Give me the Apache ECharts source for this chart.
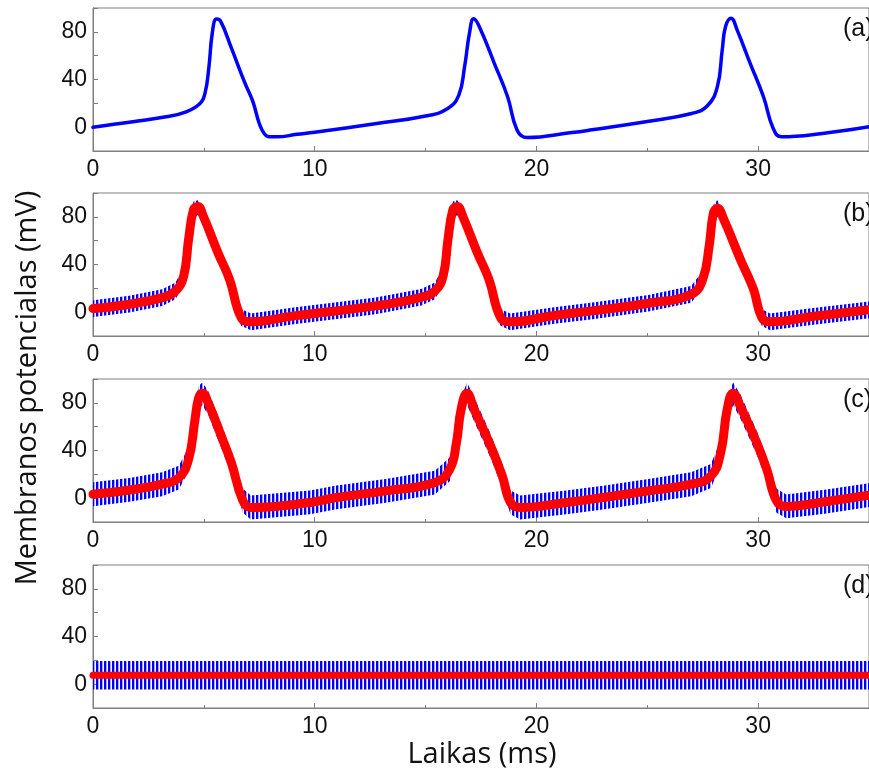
<!DOCTYPE html>
<html>
<head>
<meta charset="utf-8">
<script src="https://cdn.jsdelivr.net/npm/echarts@6/dist/echarts.min.js"></script>
<style>
  html, body { margin: 0; padding: 0; background: #fff; }
  #chart { width: 869px; height: 774px; }
</style>
</head>
<body>
<div id="chart"></div>
<script>
// (a) membrane potential, no stimulation
const aT = [0, 1.8, 3.3, 4.2, 4.8, 5.05, 5.23, 5.38, 5.57, 5.76, 6.24, 6.83, 7.2, 7.5, 7.72, 7.95, 8.3, 9.2, 10.0, 12.8, 15.0, 16.0, 16.5, 16.76, 16.98, 17.17, 17.42, 18.1, 18.7, 19.13, 19.57, 21.6, 22.5, 25.0, 27.0, 27.7, 28.16, 28.38, 28.53, 28.78, 29.05, 29.64, 30.24, 30.68, 31.05, 32.9, 35]
const aV = [0, 4.5, 8.7, 12.9, 19.4, 28.4, 50.8, 78.9, 90.7, 88.8, 66.5, 38, 22, 3.1, -5.3, -8.1, -8.1, -6.0, -4.3, 3.1, 9.3, 15.7, 26.9, 50.8, 78.9, 90.9, 84.5, 53.6, 25.5, -2.5, -8.7, -4.5, -2.2, 4.8, 11.5, 17.7, 33.9, 64.8, 84.5, 91.5, 81.7, 53.6, 25.5, -1.1, -8.1, -5.3, 0.3]

// (b) red = averaged trace, blue = raw trace (read as upper / lower envelope)
const bT = [0, 1.64, 3.12, 3.72, 4.09, 4.31, 4.53, 4.73, 4.98, 5.64, 6.16, 6.68, 7.12, 9.05, 12.75, 14.8, 15.42, 15.79, 16.01, 16.23, 16.43, 16.68, 17.34, 17.86, 18.38, 18.82, 20.8, 22.53, 25.05, 26.98, 27.5, 27.79, 27.98, 28.16, 28.46, 29.2, 29.79, 30.16, 30.53, 32.5, 35]
const bV = [3, 6.7, 12.2, 17.8, 30.3, 60.8, 85.8, 88.6, 80.3, 49.7, 27.5, -4.4, -8.1, -3.1, 5.3, 12.5, 17.8, 30.3, 60.8, 85.8, 88.6, 80.3, 49.7, 27.5, -4.4, -8.1, -2.8, 1.1, 7.5, 15, 27.5, 55.3, 83, 87.2, 77.5, 44.2, 19.2, -4.4, -8.1, -3.5, 2]
const bHi = [10, 13.7, 19.2, 24.8, 37.3, 67.8, 92.8, 94, 87.3, 56.7, 34.5, 2.6, -1.1, 3.9, 12.3, 19.5, 24.8, 37.3, 67.8, 92.8, 94, 87.3, 56.7, 34.5, 2.6, -1.1, 4.2, 8.1, 14.5, 22, 34.5, 62.3, 90, 94, 84.5, 51.2, 26.2, 2.6, -1.1, 3.5, 9]
const bLo = [-4, -0.3, 5.2, 10.8, 23.3, 53.8, 78.8, 81.6, 73.3, 42.7, 20.5, -11.4, -15.1, -10.1, -1.7, 5.5, 10.8, 23.3, 53.8, 78.8, 81.6, 73.3, 42.7, 20.5, -11.4, -15.1, -9.8, -5.9, 0.5, 8, 20.5, 48.3, 76, 80.2, 70.5, 37.2, 12.2, -11.4, -15.1, -10.5, -5]

// (c)
const cT = [0, 1.64, 3.12, 3.87, 4.31, 4.6, 4.76, 4.93, 5.2, 5.79, 6.24, 6.76, 7.12, 9.79, 10.98, 13.2, 15.42, 16.09, 16.39, 16.6, 16.87, 17.2, 17.94, 18.46, 18.83, 19.27, 21.35, 23.0, 25.05, 26.98, 27.87, 28.31, 28.6, 28.87, 29.2, 29.94, 30.39, 30.83, 31.27, 33.0, 35]
const cV = [3.3, 6.9, 11.7, 17.2, 32.5, 65.8, 83.9, 88.1, 79.7, 51.9, 29.7, -2.2, -7.8, -3.6, 0.6, 6.1, 13.1, 24.2, 46.4, 74.2, 88.1, 74.2, 43.6, 18.6, -3.6, -7.8, -3.6, 0.5, 6.1, 11.7, 18.6, 38.1, 74.2, 88.1, 76.9, 46.4, 24.2, -2.2, -6.9, -3.0, 2.5]
const cHi = [13.3, 16.9, 21.7, 27.2, 42.5, 75.8, 93.9, 97, 89.7, 61.9, 39.7, 7.8, 2.2, 6.4, 10.6, 16.1, 23.1, 34.2, 56.4, 84.2, 97, 84.2, 53.6, 28.6, 6.4, 2.2, 6.4, 10.5, 16.1, 21.7, 28.6, 48.1, 84.2, 97, 86.9, 56.4, 34.2, 7.8, 3.1, 7, 12.5]
const cLo = [-6.7, -3.1, 1.7, 7.2, 22.5, 55.8, 73.9, 78.1, 69.7, 41.9, 19.7, -12.2, -17.8, -13.6, -9.4, -3.9, 3.1, 14.2, 36.4, 64.2, 78.1, 64.2, 33.6, 8.6, -13.6, -17.8, -13.6, -9.5, -3.9, 1.7, 8.6, 28.1, 64.2, 78.1, 66.9, 36.4, 14.2, -12.2, -16.9, -13, -7.5]

// (d)
const dT = [0, 10, 20, 30, 35]
const dV = [7.5, 7.5, 7.5, 7.5, 7.5]
const dHi = [19.5, 19.5, 19.5, 19.5, 19.5]
const dLo = [-4.5, -4.5, -4.5, -4.5, -4.5]

const panelLabels = ['(a)', '(b)', '(c)', '(d)']
const xTicks = [0, 10, 20, 30]
const yTicks = [0, 40, 80]

const tops = [8, 193, 379, 565]
const gray = '#7f7f7f'
const font = '"Liberation Sans", Arial, sans-serif'

const zip = (t, v) => t.map((x, i) => [x, v[i]])

// fine stripes that stand in for the fast oscillation of the raw trace
const stripe = document.createElement('canvas')
stripe.width = 4; stripe.height = 4
{
  const g = stripe.getContext('2d')
  g.fillStyle = '#0000ff'
  g.fillRect(0, 0, 2, 4)
  g.fillStyle = 'rgba(0,0,255,0.35)'
  g.fillRect(2, 0, 1, 4)
}

function band(idx, t, hi, lo) {
  return {
    type: 'custom', xAxisIndex: idx, yAxisIndex: idx, clip: true, z: 2,
    data: [[0, 0]],
    renderItem: function (params, api) {
      const pts = []
      t.forEach((x, i) => pts.push(api.coord([x, hi[i]])))
      for (let i = t.length - 1; i >= 0; i--) pts.push(api.coord([t[i], lo[i]]))
      return { type: 'polygon', shape: { points: pts }, style: { fill: { image: stripe, repeat: 'repeat' } } }
    }
  }
}

function line(idx, t, v, color, width) {
  return {
    type: 'line', xAxisIndex: idx, yAxisIndex: idx, data: zip(t, v),
    showSymbol: false, smooth: 0.45, z: 3,
    lineStyle: { color: color, width: width, cap: 'round', join: 'round' }
  }
}

const chart = echarts.init(document.getElementById('chart'))
const option = {
  backgroundColor: '#fff',
  animation: false,
  grid: tops.map(tp => ({ left: 93, right: -12, top: tp, height: 143, show: true, borderColor: gray, borderWidth: 1, backgroundColor: 'transparent' })),
  xAxis: tops.map((tp, i) => ({
    type: 'value', gridIndex: i, min: 0, max: 35, interval: 10,
    axisLine: { show: true, onZero: false, lineStyle: { color: gray } },
    axisTick: { inside: true, length: 5, lineStyle: { color: gray } },
    minorTick: { show: true, splitNumber: 2, length: 3, lineStyle: { color: gray } },
    splitLine: { show: false },
    axisLabel: { margin: 7, fontSize: 23, color: '#111', fontFamily: font, showMaxLabel: false,
      formatter: v => xTicks.includes(v) ? String(v) : '' }
  })),
  yAxis: tops.map((tp, i) => ({
    type: 'value', gridIndex: i, min: -20, max: 100, interval: 20,
    axisLine: { show: true, onZero: false, lineStyle: { color: gray } },
    axisTick: { inside: true, length: 5, lineStyle: { color: gray } },
    splitLine: { show: false },
    axisLabel: { margin: 6, fontSize: 23, color: '#111', fontFamily: font,
      formatter: v => yTicks.includes(v) ? String(v) : '' }
  })),
  series: [
    line(0, aT, aV, '#0000ff', 3.5),
    band(1, bT, bHi, bLo), line(1, bT, bV, '#ff0000', 9),
    band(2, cT, cHi, cLo), line(2, cT, cV, '#ff0000', 9),
    band(3, dT, dHi, dLo), line(3, dT, dV, '#ff0000', 7)
  ],
  graphic: [
    ...panelLabels.map((s, i) => ({
      type: 'text', left: 843, top: tops[i] + 9,
      style: { text: s, fontSize: 25, fontFamily: font, fill: '#111' }
    })),
    {
      type: 'text', x: 28, y: 388, rotation: Math.PI / 2,
      style: { text: 'Membranos potencialas (mV)', fontSize: 29, fontFamily: 'Open Sans', fill: '#111', align: 'center', verticalAlign: 'middle' }
    },
    {
      type: 'text', x: 482, y: 755,
      style: { text: 'Laikas (ms)', fontSize: 29, fontFamily: 'Open Sans', fill: '#111', align: 'center', verticalAlign: 'middle' }
    }
  ]
}
chart.setOption(option)
</script>
</body>
</html>
